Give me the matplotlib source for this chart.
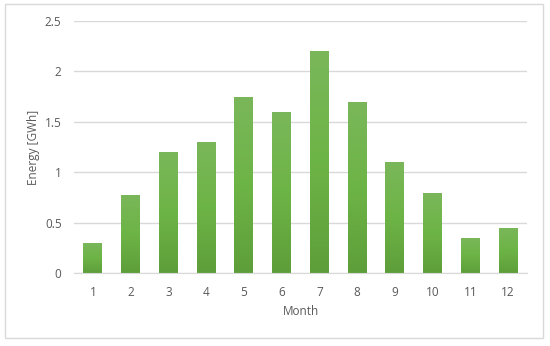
import numpy as np
import matplotlib
matplotlib.use("Agg")
import matplotlib.pyplot as plt
from matplotlib.patches import Rectangle

months = ["1", "2", "3", "4", "5", "6", "7", "8", "9", "10", "11", "12"]
energy = [0.30, 0.78, 1.20, 1.30, 1.75, 1.60, 2.20, 1.70, 1.10, 0.80, 0.35, 0.45]
yticks = [0, 0.5, 1, 1.5, 2, 2.5]
ytick_labels = ["0", "0.5", "1", "1.5", "2", "2.5"]

plt.rcParams['font.family'] = ['Open Sans', 'DejaVu Sans']
grey = '#595959'

fig = plt.figure(figsize=(5.5, 3.46), dpi=100)
fig.patches.append(Rectangle((5 / 550, 1 - 338 / 346), 538 / 550, 334 / 346,
                             transform=fig.transFigure, fill=False,
                             edgecolor='#D9D9D9', linewidth=1))
ax = fig.add_axes([74 / 550, 1 - 273.3 / 346, 453 / 550, 252.3 / 346])

x = np.arange(len(months))
bars = ax.bar(x, energy, width=0.5, color='#6AAD45', zorder=2)

# vertical gradient on each bar (lighter top, darker bottom)
grad = np.linspace(0, 1, 100).reshape(-1, 1)
cmap = matplotlib.colors.LinearSegmentedColormap.from_list('g', ['#5E9E3A', '#6DB446', '#7AB75A'])
for b in bars:
    b.set_facecolor('none')
    im = ax.imshow(grad, cmap=cmap, aspect='auto', origin='lower',
                   extent=[b.get_x(), b.get_x() + b.get_width(), 0, b.get_height()],
                   zorder=2)
    im.set_clip_path(b)

ax.set_xlim(-0.5, len(months) - 0.5)
ax.set_ylim(0, 2.5)
ax.set_xticks(x)
ax.set_xticklabels(months)
ax.set_yticks(yticks)
ax.set_yticklabels(ytick_labels)
ax.grid(axis='y', color='#D9D9D9', linewidth=1, zorder=0)
ax.set_axisbelow(True)
for s in ['top', 'right', 'left']:
    ax.spines[s].set_visible(False)
ax.spines['bottom'].set_color('#D9D9D9')
ax.tick_params(length=0, colors=grey, labelsize=8.5)
ax.tick_params(axis='x', pad=9)
ax.tick_params(axis='y', pad=9)
ax.set_xlabel('Month', color=grey, fontsize=8.5)
ax.set_ylabel('Energy [GWh]', color=grey, fontsize=8.5)
ax.xaxis.set_label_coords(0.5, -0.153)
ax.yaxis.set_label_coords(-0.0905, 0.5)
ax.xaxis.label.set_va('center')
ax.yaxis.label.set_va('center')

fig.savefig('out.png', dpi=100)
